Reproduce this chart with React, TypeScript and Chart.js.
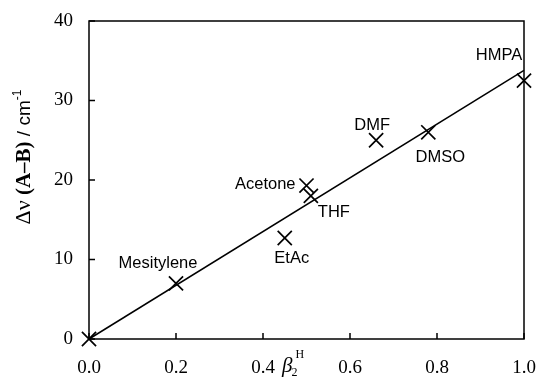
import React, { useEffect, useRef } from 'react';
import { Chart, registerables } from 'chart.js';

Chart.register(...registerables);

// ---- data ----
const solventNames = ['', 'Mesitylene', 'EtAc', 'Acetone', 'THF', 'DMF', 'DMSO', 'HMPA'];
const betaH = [0.0, 0.2, 0.45, 0.5, 0.51, 0.66, 0.78, 1.0];
const deltaNu = [0, 7.0, 12.7, 19.3, 18.0, 25.0, 26.0, 32.5];
const fitBeta = [0, 1.0];
const fitNu = [0, 33.8];
const xTickValues = [0, 0.2, 0.4, 0.6, 0.8, 1.0];
const yTickValues = [0, 10, 20, 30, 40];

// label placement (layout only)
const labelPlacement: Record<string, { dx: number; dy: number; align: CanvasTextAlign }> = {
  Mesitylene: { dx: -18, dy: -20, align: 'center' },
  EtAc: { dx: 7, dy: 20, align: 'center' },
  Acetone: { dx: -11, dy: -1, align: 'right' },
  THF: { dx: 7, dy: 17, align: 'left' },
  DMF: { dx: -4, dy: -15, align: 'center' },
  DMSO: { dx: 12, dy: 25, align: 'center' },
  HMPA: { dx: -25, dy: -25, align: 'center' },
};

const SERIF = '"Liberation Serif", "Times New Roman", serif';
const SANS = '"Liberation Sans", Arial, Helvetica, sans-serif';

const decorPlugin = {
  id: 'decor',
  afterDraw(chart: any) {
    const ctx: CanvasRenderingContext2D = chart.ctx;
    const { left, right, top, bottom } = chart.chartArea;
    const xs = chart.scales.x;
    const ys = chart.scales.y;
    ctx.save();
    ctx.strokeStyle = '#000';
    ctx.lineWidth = 1.5;
    ctx.strokeRect(left, top, right - left, bottom - top);
    // inner ticks
    ctx.beginPath();
    xTickValues.forEach((v) => {
      const px = xs.getPixelForValue(v);
      ctx.moveTo(px, bottom);
      ctx.lineTo(px, bottom - 6);
    });
    yTickValues.forEach((v) => {
      const py = ys.getPixelForValue(v);
      ctx.moveTo(left, py);
      ctx.lineTo(left + 6, py);
    });
    ctx.stroke();

    // point labels
    ctx.fillStyle = '#000';
    ctx.font = `16.5px ${SANS}`;
    ctx.textBaseline = 'middle';
    solventNames.forEach((name, i) => {
      const p = labelPlacement[name];
      if (!p) return;
      const px = xs.getPixelForValue(betaH[i]);
      const py = ys.getPixelForValue(deltaNu[i]);
      ctx.textAlign = p.align;
      ctx.fillText(name, px + p.dx, py + p.dy);
    });

    // y title
    const pieces = [
      { t: 'Δν', f: `22px ${SERIF}`, dy: 0 },
      { t: ' (A–B)', f: `bold 21px ${SERIF}`, dy: 0 },
      { t: ' / cm', f: `19px ${SANS}`, dy: 0 },
      { t: '-1', f: `12px ${SANS}`, dy: -9 },
    ];
    let total = 0;
    pieces.forEach((p) => {
      ctx.font = p.f;
      total += ctx.measureText(p.t).width;
    });
    ctx.translate(30, 157);
    ctx.rotate(-Math.PI / 2);
    ctx.textAlign = 'left';
    ctx.textBaseline = 'alphabetic';
    let cx = -total / 2;
    pieces.forEach((p) => {
      ctx.font = p.f;
      ctx.fillText(p.t, cx, p.dy);
      cx += ctx.measureText(p.t).width;
    });
    ctx.setTransform(1, 0, 0, 1, 0, 0);
    ctx.restore();

    // x title
    ctx.save();
    ctx.fillStyle = '#000';
    ctx.textAlign = 'left';
    ctx.textBaseline = 'alphabetic';
    ctx.font = `italic 21px ${SERIF}`;
    ctx.fillText('β', 282, 372);
    const bw = ctx.measureText('β').width;
    ctx.font = `12px ${SERIF}`;
    ctx.fillText('2', 282 + bw - 1, 376);
    ctx.fillText('H', 282 + bw + 3, 358);
    ctx.restore();
  },
};

export default function App() {
  const canvasRef = useRef<HTMLCanvasElement | null>(null);

  useEffect(() => {
    if (!canvasRef.current) return;
    const chart = new Chart(canvasRef.current, {
      type: 'scatter',
      data: {
        datasets: [
          {
            type: 'line',
            data: fitBeta.map((x, i) => ({ x, y: fitNu[i] })),
            borderColor: '#000',
            borderWidth: 1.5,
            pointRadius: 0,
            fill: false,
            tension: 0,
            clip: false,
          } as any,
          {
            type: 'scatter',
            data: betaH.map((x, i) => ({ x, y: deltaNu[i] })),
            pointStyle: 'crossRot',
            pointRadius: 10,
            pointBorderWidth: 1.7,
            borderColor: '#000',
            backgroundColor: '#000',
            showLine: false,
            clip: false,
          } as any,
        ],
      },
      options: {
        animation: false,
        responsive: true,
        maintainAspectRatio: false,
        layout: { padding: { left: 0, top: 21, right: 15, bottom: 0 } },
        plugins: { legend: { display: false }, tooltip: { enabled: false } },
        scales: {
          x: {
            type: 'linear',
            min: 0,
            max: 1,
            afterBuildTicks: (s: any) => {
              s.ticks = xTickValues.map((v) => ({ value: v }));
            },
            afterFit: (s: any) => {
              s.height = 39;
              s.paddingLeft = 0;
              s.paddingRight = 0;
            },
            grid: { display: false, drawTicks: false },
            border: { display: false },
            ticks: {
              color: '#000',
              font: { family: SERIF, size: 19 },
              padding: 18,
              maxRotation: 0,
              callback: (v: any) => Number(v).toFixed(1),
            },
          },
          y: {
            type: 'linear',
            min: 0,
            max: 40,
            afterBuildTicks: (s: any) => {
              s.ticks = yTickValues.map((v) => ({ value: v }));
            },
            afterFit: (s: any) => {
              s.width = 89;
              s.paddingTop = 0;
              s.paddingBottom = 0;
            },
            grid: { display: false, drawTicks: false },
            border: { display: false },
            ticks: {
              color: '#000',
              font: { family: SERIF, size: 19 },
              padding: 16,
              callback: (v: any) => String(v),
            },
          },
        },
      },
      plugins: [decorPlugin],
    });
    return () => chart.destroy();
  }, []);

  return (
    <div style={{ position: 'fixed', left: 0, top: 0, width: 539, height: 378, background: '#fff' }}>
      <canvas ref={canvasRef} />
    </div>
  );
}
